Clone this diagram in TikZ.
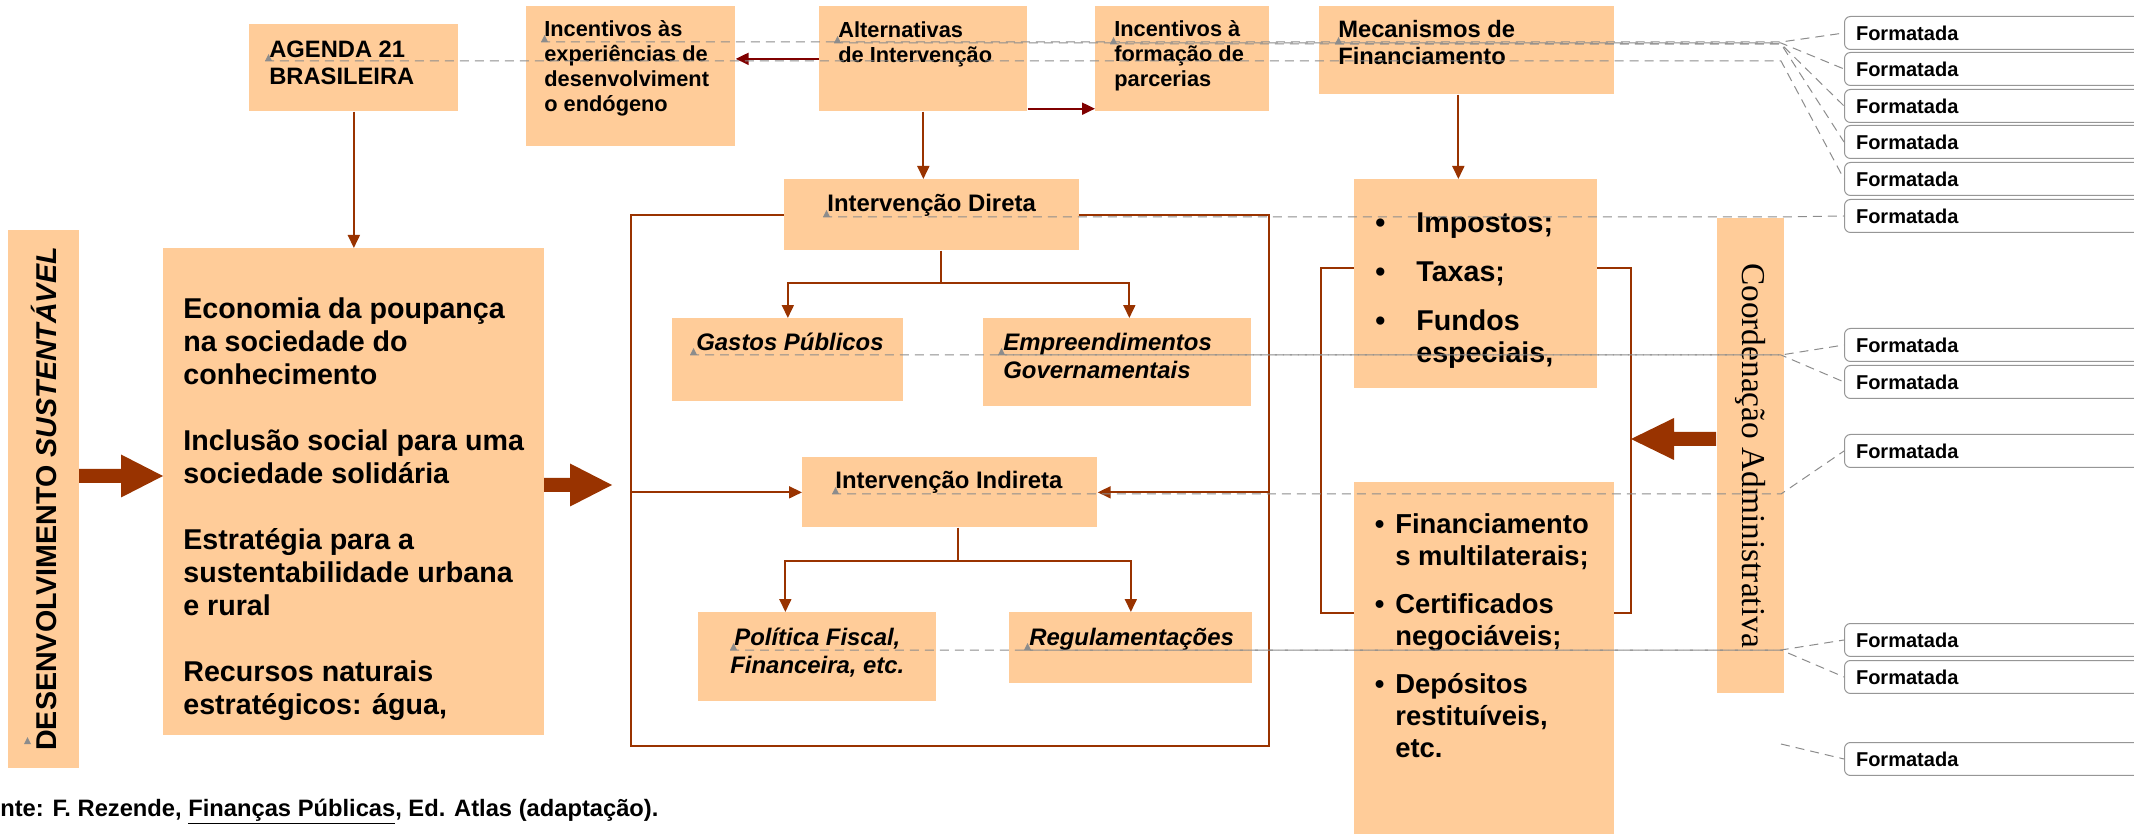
\documentclass[tikz,border=0pt]{standalone}
\usepackage{fontspec}
\setmainfont{Liberation Sans}
\newfontfamily\coordfont{Liberation Serif}
\usetikzlibrary{arrows.meta}

\definecolor{peach}{RGB}{255,204,153}
\definecolor{rust}{RGB}{153,51,0}
\definecolor{wine}{RGB}{128,0,0}
\definecolor{trackgray}{RGB}{140,140,140}
\definecolor{notegray}{RGB}{150,150,150}

\newlength\pxu
\setlength\pxu{0.02cm}
% box text: width, height, left pad, top pad, text
\newcommand\boxtext[5]{\parbox[c][#2\pxu][t]{#1\pxu}{\vspace*{#4\pxu}\raggedright\leftskip=#3\pxu\strut#5}}
\newcommand\boxtextc[4]{\parbox[c][#2\pxu][t]{#1\pxu}{\vspace*{#3\pxu}\centering\strut#4}}
\newcommand\bul[1]{\leavevmode\llap{\textbullet\hspace*{#1\pxu}}}

\begin{document}
\begin{tikzpicture}[x=0.02cm, y=-0.02cm]
\tikzset{
   >={Triangle[length=0.26cm, width=0.24cm]},
   box/.style = {fill=peach, inner sep=0pt, anchor=north west},
   vbar/.style = {fill=peach, inner sep=0pt},
   outline/.style = {draw=rust, line width=0.035cm, inner sep=0pt, anchor=north west},
   link/.style = {draw=rust, line width=0.035cm},
   darklink/.style = {draw=wine, line width=0.04cm},
   bigarrow/.style = {fill=rust},
   txtsmall/.style = {font=\bfseries\fontsize{12.4}{14.2}\selectfont},
   txtbig/.style = {font=\bfseries\fontsize{13.5}{15.4}\selectfont},
   txtmid/.style = {font=\bfseries\fontsize{13.6}{15.9}\selectfont},
   txtmidit/.style = {font=\bfseries\itshape\fontsize{13.6}{15.9}\selectfont},
   txtlarge/.style = {font=\bfseries\fontsize{16.3}{18.8}\selectfont},
   txtlist/.style = {font=\bfseries\fontsize{16.3}{18.2}\selectfont},
   txtlow/.style = {font=\bfseries\fontsize{15.6}{18.2}\selectfont},
   note/.style = {draw=notegray, fill=white, line width=0.02cm, rounded corners=0.12cm, anchor=north west,
                  minimum height=0.66cm, text width=6cm, inner xsep=0.23cm, align=left,
                  font=\bfseries\fontsize{11.4}{13}\selectfont},
   track/.style = {draw=trackgray, line width=0.02cm, dash pattern=on 0.18cm off 0.12cm},
   anchormark/.style = {fill=trackgray}
}
\useasboundingbox (0,0) rectangle (2134,834);

% frames behind the boxes
\node[outline, minimum width=12.76cm, minimum height=10.62cm] (dirframe) at (630,214) {};
\node[outline, minimum width=6.2cm, minimum height=6.9cm] (finframe) at (1320,267) {};

% top row
\node[box, txtbig] (agenda) at (249,24) {\boxtext{209}{87}{20}{14.1}{AGENDA 21\\BRASILEIRA}};
\node[box, txtsmall] (incas) at (526,6) {\boxtext{209}{140}{18}{12.5}{Incentivos às\\experiências de\\desenvolviment\\o endógeno}};
\node[box, txtsmall] (alt) at (819,6) {\boxtext{208}{105}{19}{13.8}{Alternativas\\de Intervenção}};
\node[box, txtsmall] (inca) at (1095,6) {\boxtext{174}{105}{19}{12.5}{Incentivos à\\formação de\\parcerias}};
\node[box, txtbig] (mec) at (1319,6) {\boxtext{295}{88}{19}{12.1}{Mecanismos de\\Financiamento}};

% intervention
\node[box, txtmid] (direta) at (784,179) {\boxtext{295}{71}{43}{12.4}{Intervenção Direta}};
\node[box, txtmidit] (gastos) at (672,318) {\boxtext{231}{83}{24}{12.4}{Gastos Públicos}};
\node[box, txtmidit] (emp) at (983,318) {\boxtext{268}{88}{20}{12.4}{Empreendimentos\\Governamentais}};
\node[box, txtmid] (indir) at (802,457) {\boxtext{295}{70}{33}{11.4}{Intervenção Indireta}};
\node[box, txtmidit] (pol) at (698,612) {\boxtextc{238}{89}{13.4}{Política Fiscal,\\Financeira, etc.}};
\node[box, txtmidit] (reg) at (1009,612) {\boxtext{243}{71}{20}{13.4}{Regulamentações}};

% left side
\node[vbar, rotate=90, minimum width=10.76cm, minimum height=1.42cm,
      font=\bfseries\fontsize{16.3}{18}\selectfont] (desenv) at (43.5,499) {DESENVOLVIMENTO \textit{SUSTENTÁVEL}};
\node[box, txtlarge] (econ) at (163,248) {\boxtext{381}{487}{20}{46.9}{Economia da poupança\\na sociedade do\\conhecimento\\[33\pxu]Inclusão social para uma\\sociedade solidária\\[33\pxu]Estratégia para a\\sustentabilidade urbana\\e rural\\[33\pxu]Recursos naturais\\estratégicos: água,}};

% financing
\node[box, txtlist] (imp) at (1354,179) {\boxtext{243}{209}{62}{30.6}{\bul{31}Impostos;\\[17\pxu]\bul{31}Taxas;\\[17\pxu]\bul{31}Fundos\\especiais,}};
\node[box, txtlow] (low) at (1354,482) {\boxtext{260}{360}{41}{28.6}{\bul{11}Financiamento\\s multilaterais;\\[16\pxu]\bul{11}Certificados\\negociáveis;\\[16\pxu]\bul{11}Depósitos\\restituíveis,\\etc.}};
\node[vbar, rotate=-90, minimum width=9.5cm, minimum height=1.34cm,
      font=\coordfont\fontsize{19}{21}\selectfont] (coord) at (1750.5,455.5) {Coordenação Administrativa};

% connectors
\draw[link, ->] (agenda.south) -- (agenda.south |- econ.north);
\draw[link, ->] (alt.south) -- (alt.south |- direta.north);
\draw[darklink, ->] (alt.west) -- (alt.west -| incas.east);
\coordinate (alt-out) at ([yshift=0.06cm]alt.south east);
\draw[darklink, ->] (alt-out) -- (alt-out -| inca.west);
\coordinate (mec-out) at ([xshift=-0.17cm]mec.south);
\draw[link, ->] (mec-out) -- (mec-out |- imp.north);

\coordinate (dfork) at (941,283);
\coordinate (emp-in) at ([xshift=0.24cm]emp.north);
\draw[link] (dfork |- direta.south) -- (dfork);
\draw[link, ->] (dfork) -| (gastos.north);
\draw[link, ->] (dfork) -| (emp-in);

\coordinate (ifork) at (958,561);
\coordinate (pol-in) at ([xshift=-0.64cm]pol.north);
\draw[link] (ifork |- indir.south) -- (ifork);
\draw[link, ->] (ifork) -| (pol-in);
\draw[link, ->] (ifork) -| (reg.north);

\draw[link, ->] (dirframe.west |- indir.west) -- (indir.west);
\draw[link, ->] (dirframe.east |- indir.east) -- (indir.east);

% block arrows
\coordinate (tip-econ) at (163,476);
\coordinate (tip-frame) at (612,485);
\coordinate (tip-fin) at (1631,439);
\fill[bigarrow] (tip-econ) -- ++(-42,-21.5) -- ++(0,14.5) -- ++(-42,0) -- ++(0,14) -- ++(42,0) -- ++(0,14.5) -- cycle;
\fill[bigarrow] (tip-frame) -- ++(-42,-21.5) -- ++(0,14.5) -- ++(-26,0) -- ++(0,14) -- ++(26,0) -- ++(0,14.5) -- cycle;
\fill[bigarrow] (tip-fin) -- ++(43,-21) -- ++(0,14) -- ++(42,0) -- ++(0,14) -- ++(-42,0) -- ++(0,14) -- cycle;

% comment balloons
\node[note] (bal1) at (1844,16) {Formatada};
\node[note] (bal2) at (1844,52) {Formatada};
\node[note] (bal3) at (1844,89) {Formatada};
\node[note] (bal4) at (1844,125) {Formatada};
\node[note] (bal5) at (1844,162) {Formatada};
\node[note] (bal6) at (1844,199) {Formatada};
\node[note] (bal7) at (1844,328) {Formatada};
\node[note] (bal8) at (1844,365) {Formatada};
\node[note] (bal9) at (1844,434) {Formatada};
\node[note] (bal10) at (1844,623) {Formatada};
\node[note] (bal11) at (1844,660) {Formatada};
\node[note] (bal12) at (1844,742) {Formatada};

% anchors of the balloons
\coordinate (m-agenda) at (265,61);
\coordinate (m-incas) at (541,42);
\coordinate (m-alt) at (834,43);
\coordinate (m-inca) at (1110,44);
\coordinate (m-mec) at (1335,44);
\coordinate (m-direta) at (823,217);
\coordinate (m-gastos) at (690,355);
\coordinate (m-emp) at (998,355);
\coordinate (m-indir) at (832,494);
\coordinate (m-pol) at (730,650);
\coordinate (m-reg) at (1024,650);
\coordinate (m-desenv) at (24,744);
\coordinate (fan) at (1781,0);

\draw[track] (m-incas) -- (m-incas -| fan) -- (bal1.west);
\draw[track] (m-alt) -- (m-alt -| fan) -- (bal2.west);
\draw[track] (m-inca) -- (m-inca -| fan) -- (bal3.west);
\draw[track] (m-mec) -- (m-mec -| fan) -- (bal4.west);
\draw[track] (m-agenda) -- (m-agenda -| fan) -- (bal5.west);
\draw[track] (m-direta) -- (m-direta -| fan) -- (bal6.west);
\draw[track] (m-gastos) -- (m-gastos -| fan) -- (bal7.west);
\draw[track] (m-emp) -- (m-emp -| fan) -- (bal8.west);
\draw[track] (m-indir) -- (m-indir -| fan) -- (bal9.west);
\draw[track] (m-pol) -- (m-pol -| fan) -- (bal10.west);
\draw[track] (m-reg) -- (m-reg -| fan) -- (bal11.west);
\draw[track] (m-desenv -| fan) -- (bal12.west);

\foreach \m in {m-agenda, m-incas, m-alt, m-inca, m-mec, m-direta, m-gastos, m-emp, m-indir, m-pol, m-reg, m-desenv}
  \fill[anchormark] (\m) -- ++(7,0) -- ++(-3.5,-7) -- cycle;

% source
\node[anchor=base west, inner sep=0pt, font=\bfseries\fontsize{13.5}{16}\selectfont] (source) at (-29,816)
     {Fonte: F. Rezende, \underline{Finanças Públicas}, Ed. Atlas (adaptação).};

\end{tikzpicture}
\end{document}
